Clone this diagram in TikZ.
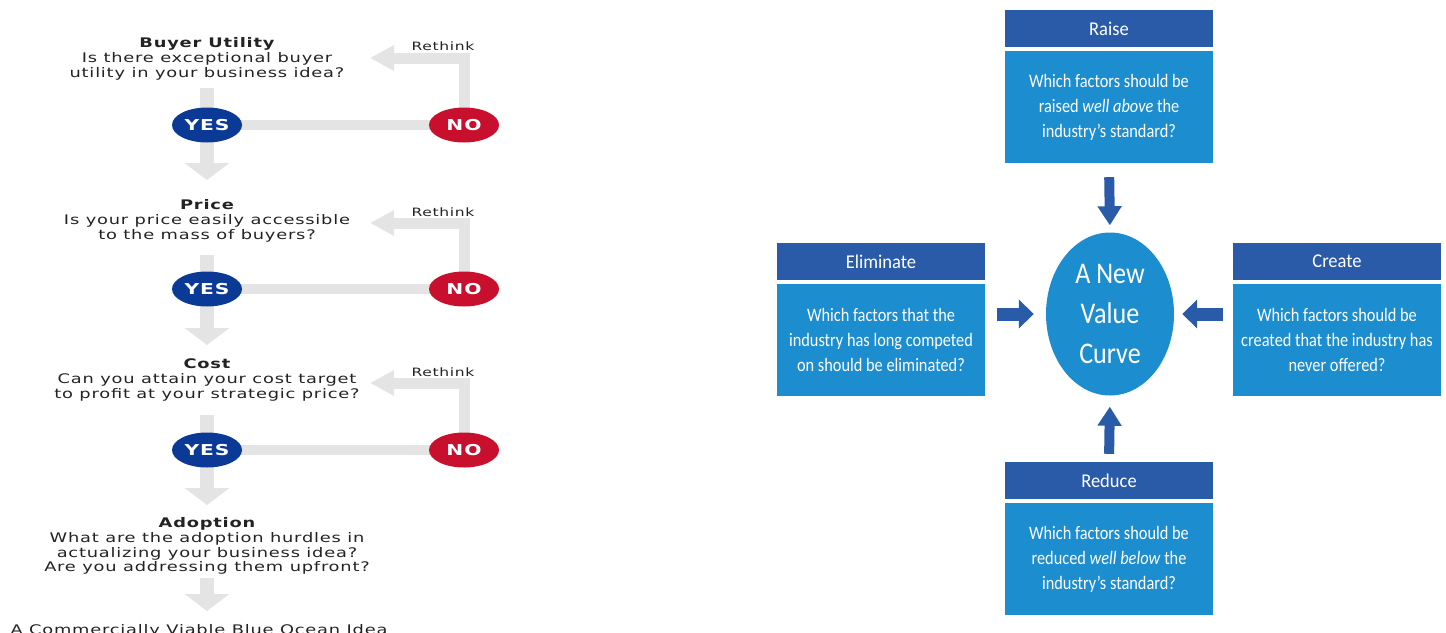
\documentclass[tikz,border=0pt]{standalone}
\usepackage{fontspec}
\usetikzlibrary{arrows.meta,shapes.geometric,backgrounds}
\setmainfont{DejaVu Sans}
\newfontfamily\flowfont[FakeStretch=1.35,LetterSpace=6]{DejaVu Sans}
\newfontfamily\boxfont[FakeStretch=0.86]{Carlito}
\newfontfamily\hdrfont[FakeStretch=0.95]{Carlito}
\newfontfamily\ellfont[FakeStretch=0.87]{Carlito}
\definecolor{hdrblue}{RGB}{42,91,168}
\definecolor{bodyblue}{RGB}{28,141,206}
\definecolor{yesblue}{RGB}{10,58,150}
\definecolor{nored}{RGB}{200,16,46}
\definecolor{flowgray}{RGB}{228,228,228}
\definecolor{qtext}{RGB}{35,35,35}
\begin{document}
\begin{tikzpicture}[x=1pt,y=-1pt,
  question/.style={align=center,text=qtext,inner sep=0pt,font=\flowfont\fontsize{13.2}{14.8}\selectfont},
  yesnode/.style={ellipse,fill=yesblue,text=white,minimum width=70pt,minimum height=35pt,inner sep=0pt,font=\flowfont\bfseries\fontsize{15}{15}\selectfont},
  nonode/.style={yesnode,fill=nored},
  rethink/.style={text=qtext,inner sep=0pt,font=\flowfont\fontsize{11.5}{13}\selectfont},
  downarrow/.style={draw=flowgray,line width=14pt,-{Triangle[width=44pt,length=17pt]}},
  shaft/.style={draw=flowgray,line width=14pt},
  link/.style={draw=flowgray,line width=10pt},
  backarrow/.style={draw=flowgray,line width=11pt,line join=miter,-{Triangle[width=24pt,length=24pt]}},
  hdr/.style={fill=hdrblue,text=white,minimum width=208pt,minimum height=37pt,inner sep=0pt,font=\hdrfont\fontsize{19.5}{22}\selectfont},
  bodybox/.style={fill=bodyblue,text=white,minimum width=208pt,minimum height=112pt,inner sep=0pt,align=center,font=\boxfont\fontsize{19}{25}\selectfont},
  varrow/.style={draw=hdrblue,line width=10pt,-{Triangle[width=23pt,length=19pt]}},
  harrow/.style={draw=hdrblue,line width=13pt,-{Triangle[width=28pt,length=15pt]}}
]
\useasboundingbox (0,0) rectangle (1446,632);

% ---------- left flow ----------
\node[question] (q1) at (207,59) {\bfseries Buyer Utility\\Is there exceptional buyer\\utility in your business idea?};
\node[yesnode] (y1) at (207,125) {YES};
\node[nonode] (n1) at (464,125) {NO};
\node[rethink] (rt1) at (443,46) {Rethink};

\node[question] (q2) at (207,221) {\bfseries Price\\Is your price easily accessible\\to the mass of buyers?};
\node[yesnode] (y2) at (207,289) {YES};
\node[nonode] (n2) at (464,289) {NO};
\node[rethink] (rt2) at (443,212) {Rethink};

\node[question] (q3) at (207,380) {\bfseries Cost\\Can you attain your cost target\\to profit at your strategic price?};
\node[yesnode] (y3) at (207,450) {YES};
\node[nonode] (n3) at (464,450) {NO};
\node[rethink] (rt3) at (443,372) {Rethink};

\node[question] (q4) at (207,546) {\bfseries Adoption\\What are the adoption hurdles in\\actualizing your business idea?\\Are you addressing them upfront?};
\node[question] (f) at (199,631) {A Commercially Viable Blue Ocean Idea};

\coordinate (s1) at (207,88);  \coordinate (t1) at (207,180); \coordinate (r1) at (370,58);
\coordinate (s2) at (207,255); \coordinate (t2) at (207,345); \coordinate (r2) at (370,223);
\coordinate (s3) at (207,415); \coordinate (t3) at (207,505); \coordinate (r3) at (370,383);
\coordinate (s4) at (207,578); \coordinate (t4) at (207,611);

\begin{scope}[on background layer]
  \fill[white] (0,0) rectangle (1446,632);
  \foreach \i in {1,2,3}{
    \draw[shaft] (s\i) -- (y\i.center);
    \draw[downarrow] (y\i.center) -- (t\i);
    \draw[link] (y\i.center) -- (n\i.center);
    \draw[backarrow] (n\i.center) |- (r\i);
  }
  \draw[downarrow] (s4) -- (t4);
\end{scope}

% ---------- right: ERRC grid ----------
\node[ellipse,fill=bodyblue,text=white,minimum width=128pt,minimum height=163pt,inner sep=0pt,align=center,
      font=\ellfont\fontsize{30}{40}\selectfont] (ve) at (1110,314) {A New\\Value\\Curve};

\node[hdr] (rh) at (1109,28.5) {Raise};
\node[bodybox] (rb) at (1109,107) {Which factors should be\\raised \textit{well above} the\\industry’s standard?};

\node[hdr] (eh) at (881,261.5) {Eliminate};
\node[bodybox] (eb) at (881,340) {Which factors that the\\industry has long competed\\on should be eliminated?};

\node[hdr] (ch) at (1337,261.5) {Create};
\node[bodybox] (cb) at (1337,340) {Which factors should be\\created that the industry has\\never offered?};

\node[hdr] (dh) at (1109,480.5) {Reduce};
\node[bodybox] (db) at (1109,559) {Which factors should be\\reduced \textit{well below} the\\industry’s standard?};

\draw[varrow,shorten <=14pt,shorten >=7pt] (rb.south) -- (ve.north);
\draw[harrow,shorten <=12pt,shorten >=12pt] (eb.east |- ve.center) -- (ve.west);
\draw[harrow,shorten <=10pt,shorten >=8pt] (cb.west |- ve.center) -- (ve.east);
\draw[varrow,shorten <=8pt,shorten >=11pt] (dh.north) -- (ve.south);
\end{tikzpicture}
\end{document}
